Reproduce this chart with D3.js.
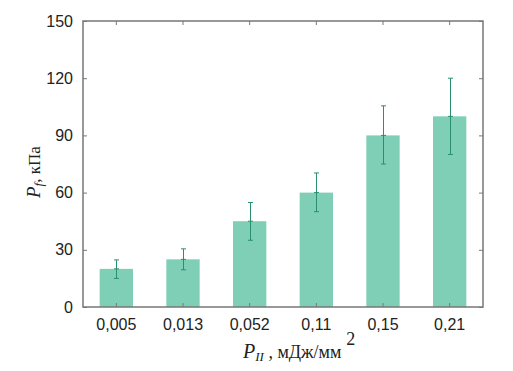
<!DOCTYPE html>
<html lang="ru">
<head>
    <meta charset="UTF-8">
    <title>P_f vs P_II</title>
    <script src="https://d3js.org/d3.v7.min.js"></script>
    <style>
        body { margin: 0; background: #fff; }
    </style>
</head>
<body>
    <svg width="513" height="371"></svg>
    <script>
        // данные
        const categories = ["0,005", "0,013", "0,052", "0,11", "0,15", "0,21"];
        const values = [20, 25, 45, 60, 90, 100];
        const errLow = [15, 19.5, 35, 50, 75, 80];
        const errHigh = [24.7, 30.5, 54.8, 70.3, 105.5, 120];
        const yTicks = [0, 30, 60, 90, 120, 150];

        const width = 513, height = 371;
        const m = { left: 83, right: 30, top: 21, bottom: 64 };

        const svg = d3.select("svg");

        const x = d3.scaleBand()
            .domain(categories)
            .range([m.left, width - m.right])
            .paddingInner(0.5)
            .paddingOuter(0.25);

        const y = d3.scaleLinear()
            .domain([0, 150])
            .range([height - m.bottom, m.top]);

        const axisColor = "#777";
        const barColor = "#7fcfb7";
        const errColor = "#2a8f6f";
        const sans = '"Liberation Sans", Arial, sans-serif';
        const serif = '"Liberation Serif", "Times New Roman", serif';

        // столбцы
        svg.selectAll(".bar")
            .data(values)
            .enter().append("rect")
            .attr("class", "bar")
            .attr("x", (d, i) => x(categories[i]))
            .attr("y", d => y(d))
            .attr("width", x.bandwidth())
            .attr("height", d => y(0) - y(d))
            .attr("fill", barColor);

        // погрешности
        const eb = svg.append("g")
            .attr("stroke", errColor)
            .attr("stroke-width", 1)
            .attr("fill", "none");
        categories.forEach((c, i) => {
            const cx = Math.round(x(c) + x.bandwidth() / 2) + 0.5;
            eb.append("line")
                .attr("x1", cx).attr("x2", cx)
                .attr("y1", y(errLow[i])).attr("y2", y(errHigh[i]));
            [errLow[i], errHigh[i], values[i]].forEach(v => {
                eb.append("line")
                    .attr("x1", cx - 2.5).attr("x2", cx + 2.5)
                    .attr("y1", y(v)).attr("y2", y(v));
            });
        });

        // рамка и оси
        svg.append("rect")
            .attr("x", m.left)
            .attr("y", m.top)
            .attr("width", width - m.right - m.left)
            .attr("height", y(0) - m.top)
            .attr("fill", "none")
            .attr("stroke", axisColor)
            .attr("stroke-width", 1.5);

        const yAxisL = d3.axisLeft(y).tickValues(yTicks).tickSize(-4).tickPadding(10);
        const yAxisR = d3.axisRight(y).tickValues(yTicks).tickSize(-4).tickFormat("");
        const xAxisB = d3.axisBottom(x).tickSize(-4).tickPadding(12);
        const xAxisT = d3.axisTop(x).tickSize(-4).tickFormat("");

        function styleAxis(g) {
            g.attr("font-family", sans).attr("font-size", 16);
            g.select(".domain").remove();
            g.selectAll(".tick line").attr("stroke", axisColor);
            g.selectAll(".tick text").attr("fill", "#222");
        }

        svg.append("g").attr("transform", `translate(${m.left},0)`).call(yAxisL).call(styleAxis);
        svg.append("g").attr("transform", `translate(${width - m.right},0)`).call(yAxisR).call(styleAxis);
        svg.append("g").attr("transform", `translate(0,${y(0)})`).call(xAxisB).call(styleAxis);
        svg.append("g").attr("transform", `translate(0,${m.top})`).call(xAxisT).call(styleAxis);

        // подписи осей
        const xt = svg.append("text")
            .style("font-family", serif)
            .style("font-size", "18px")
            .attr("fill", "#222")
            .attr("x", 243)
            .attr("y", 358);
        xt.append("tspan").style("font-style", "italic").style("font-size", "20px").text("P");
        xt.append("tspan").style("font-style", "italic").style("font-size", "13px").attr("dy", 3).text("II");
        xt.append("tspan").attr("dy", -3).text(" , мДж/мм");
        xt.append("tspan").attr("dy", -13).attr("dx", 5).text("2");

        const yt = svg.append("text")
            .style("font-family", serif)
            .style("font-size", "17px")
            .attr("fill", "#222")
            .attr("transform", "translate(40,198) rotate(-90)");
        yt.append("tspan").style("font-style", "italic").style("font-size", "19px").text("P");
        yt.append("tspan").style("font-style", "italic").style("font-size", "13px").attr("dy", 3).text("f");
        yt.append("tspan").attr("dy", -3).text(", кПа");
    </script>
</body>
</html>
